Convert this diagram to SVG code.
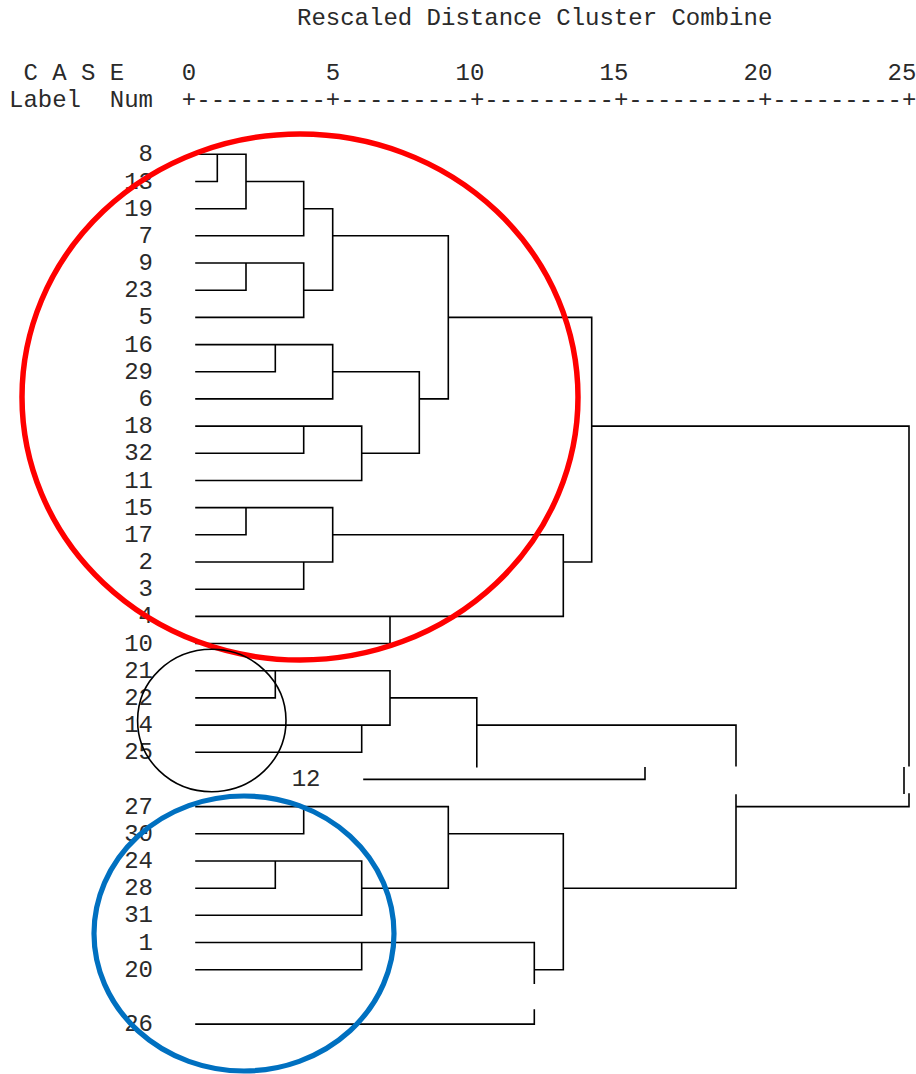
<svg xmlns="http://www.w3.org/2000/svg" width="916" height="1074" viewBox="0 0 916 1074">
<style>
text{font-family:"Liberation Mono","Courier New",monospace;font-size:24px;fill:#2a2a2a;}
.lbl{text-anchor:end;}
.tree{fill:none;stroke:#000;stroke-width:1.6;stroke-linecap:square;}
.ring{fill:none;}
</style>
<rect width="916" height="1074" fill="#fff"/>
<g id="header">
<text x="297" y="25">Rescaled Distance Cluster Combine</text>
<text x="9" y="80" xml:space="preserve"> C A S E    0         5        10        15        20        25</text>
<text x="9" y="107" xml:space="preserve">Label  Num  +---------+---------+---------+---------+---------+</text>
</g>
<g id="case-8"><text class="lbl" x="153" y="161.3">8</text></g>
<g id="case-13"><text class="lbl" x="153" y="188.5">13</text></g>
<g id="case-19"><text class="lbl" x="153" y="215.7">19</text></g>
<g id="case-7"><text class="lbl" x="153" y="242.8">7</text></g>
<g id="case-9"><text class="lbl" x="153" y="270">9</text></g>
<g id="case-23"><text class="lbl" x="153" y="297.2">23</text></g>
<g id="case-5"><text class="lbl" x="153" y="324.4">5</text></g>
<g id="case-16"><text class="lbl" x="153" y="351.6">16</text></g>
<g id="case-29"><text class="lbl" x="153" y="378.7">29</text></g>
<g id="case-6"><text class="lbl" x="153" y="405.9">6</text></g>
<g id="case-18"><text class="lbl" x="153" y="433.1">18</text></g>
<g id="case-32"><text class="lbl" x="153" y="460.3">32</text></g>
<g id="case-11"><text class="lbl" x="153" y="487.5">11</text></g>
<g id="case-15"><text class="lbl" x="153" y="514.6">15</text></g>
<g id="case-17"><text class="lbl" x="153" y="541.8">17</text></g>
<g id="case-2"><text class="lbl" x="153" y="569">2</text></g>
<g id="case-3"><text class="lbl" x="153" y="596.2">3</text></g>
<g id="case-4"><text class="lbl" x="153" y="623.4">4</text></g>
<g id="case-10"><text class="lbl" x="153" y="650.5">10</text></g>
<g id="case-21"><text class="lbl" x="153" y="677.7">21</text></g>
<g id="case-22"><text class="lbl" x="153" y="704.9">22</text></g>
<g id="case-14"><text class="lbl" x="153" y="732.1">14</text></g>
<g id="case-25"><text class="lbl" x="153" y="759.3">25</text></g>
<g id="case-12"><text class="lbl" x="320.5" y="786.4">12</text></g>
<g id="case-27"><text class="lbl" x="153" y="813.6">27</text></g>
<g id="case-30"><text class="lbl" x="153" y="840.8">30</text></g>
<g id="case-24"><text class="lbl" x="153" y="868">24</text></g>
<g id="case-28"><text class="lbl" x="153" y="895.2">28</text></g>
<g id="case-31"><text class="lbl" x="153" y="922.3">31</text></g>
<g id="case-1"><text class="lbl" x="153" y="949.5">1</text></g>
<g id="case-20"><text class="lbl" x="153" y="976.7">20</text></g>
<g id="case-26"><text class="lbl" x="153" y="1031.1">26</text></g>
<g id="connectors">
<path class="tree" d="M196 154.3H246 M196 181.5H217.3V154.3 M196 208.7H246V154.3 M246 181.5H303.7 M196 235.8H303.7V181.5 M303.7 208.7H332.7 M196 263H303.7 M196 290.2H246V263 M196 317.4H303.7V263 M303.7 290.2H332.7 M332.7 208.7V290.2 M332.7 235.8H448.3 M196 344.6H332.7 M196 371.7H275.3V344.6 M196 398.9H332.7V344.6 M332.7 371.7H419.3 M196 426.1H361.7 M196 453.3H303.7V426.1 M196 480.5H361.7V426.1 M361.7 453.3H419.3 M419.3 371.7V453.3 M419.3 398.9H448.3 M448.3 235.8V398.9 M448.3 317.4H591.7 M196 507.6H332.7 M196 534.8H246V507.6 M196 562H332.7V507.6 M196 589.2H303.7V562 M332.7 534.8H563.3 M196 616.4H563.3V534.8 M563.3 562H591.7 M591.7 317.4V562 M591.7 426.1H909V765.7 M196 643.5H390V616.4 M196 670.7H390 M196 697.9H275.3V670.7 M196 725.1H390V670.7 M196 752.3H361.7V725.1 M390 697.9H476.8V766.7 M476.8 725.1H736V765.7 M364 779.4H645V767.7 M904 767.7V793.3 M909 794V806.6H736 M736 795V888.2 M196 806.6H448.3 M196 833.8H303.7V806.6 M448.3 806.6V888.2 M448.3 833.8H563.3 M196 861H361.7 M196 888.2H275.3V861 M196 915.3H361.7V861 M361.7 888.2H448.3 M196 942.5H534.3V983.3 M196 969.7H361.7V942.5 M534.3 969.7H563.3 M563.3 833.8V969.7 M563.3 888.2H736 M196 1024.1H534.3V1010"/>
</g>
<g id="highlights">
<ellipse class="ring" cx="300" cy="397" rx="278" ry="263" stroke="#ff0000" stroke-width="5.5"/>
<ellipse class="ring" cx="211.8" cy="720.5" rx="74.2" ry="71.2" stroke="#000" stroke-width="1.6"/>
<ellipse class="ring" cx="244" cy="933.5" rx="150" ry="137.5" stroke="#0070c0" stroke-width="5.2"/>
</g>
</svg>
